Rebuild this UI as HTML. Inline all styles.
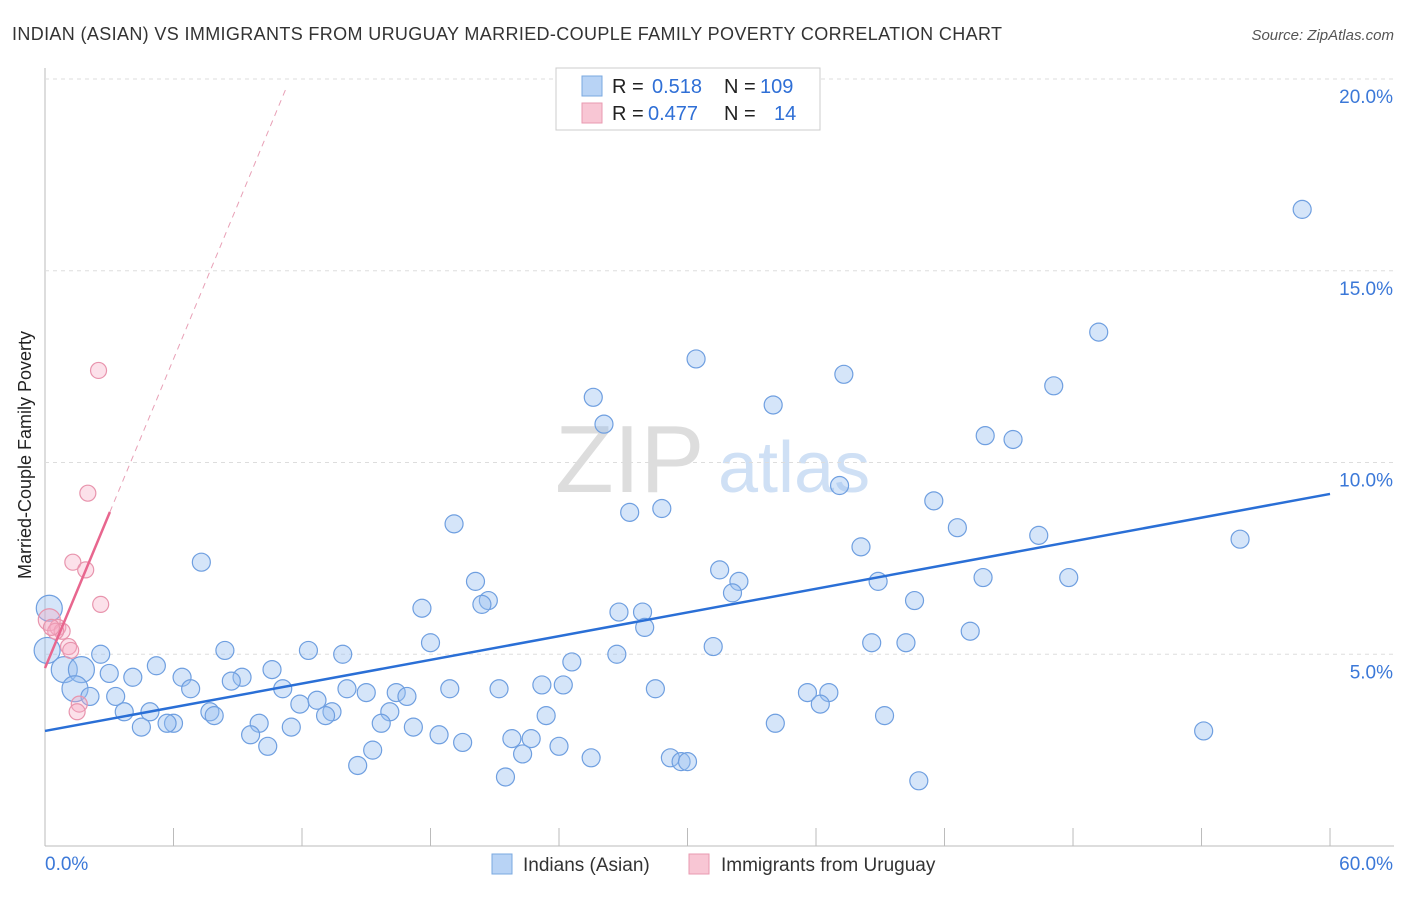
<!DOCTYPE html>
<html><head><meta charset="utf-8"><style>
body{margin:0;background:#fff;font-family:"Liberation Sans",sans-serif;}
svg text{font-family:"Liberation Sans",sans-serif;}
</style></head><body>
<svg id="c" width="1406" height="892" xmlns="http://www.w3.org/2000/svg">
<text x="12" y="40" font-size="18" fill="#333" textLength="990">INDIAN (ASIAN) VS IMMIGRANTS FROM URUGUAY MARRIED-COUPLE FAMILY POVERTY CORRELATION CHART</text>
<text x="1394" y="40" font-size="15" fill="#555" font-style="italic" text-anchor="end">Source: ZipAtlas.com</text>
<text x="31" y="455" font-size="18" fill="#222" text-anchor="middle" transform="rotate(-90 31 455)">Married-Couple Family Poverty</text>
<text x="555" y="492" font-size="96" fill="#ddd" font-family="Liberation Serif">ZIP</text>
<text x="718" y="492" font-size="72" fill="#cfe0f5">atlas</text>
<g id="grid"></g><g id="pts"></g><g id="lines"></g>
<g>
<rect x="556" y="68" width="264" height="62" fill="#fff" stroke="#ccc"/>
<rect x="582" y="76" width="20" height="20" fill="#b8d3f5" stroke="#7aa8e0"/>
<text x="612" y="93" font-size="20" fill="#222">R =</text><text x="652" y="93" font-size="20" fill="#2f6fd6">0.518</text>
<text x="724" y="93" font-size="20" fill="#222">N =</text><text x="760" y="93" font-size="20" fill="#2f6fd6">109</text>
<rect x="582" y="103" width="20" height="20" fill="#f8c6d4" stroke="#e99ab0"/>
<text x="612" y="120" font-size="20" fill="#222">R =</text><text x="648" y="120" font-size="20" fill="#2f6fd6">0.477</text>
<text x="724" y="120" font-size="20" fill="#222">N =</text><text x="774" y="120" font-size="20" fill="#2f6fd6">14</text>
</g>
<g>
<rect x="492" y="854" width="20" height="20" fill="#b8d3f5" stroke="#7aa8e0"/>
<text x="523" y="871" font-size="19" fill="#333">Indians (Asian)</text>
<rect x="689" y="854" width="20" height="20" fill="#f8c6d4" stroke="#e99ab0"/>
<text x="721" y="871" font-size="19" fill="#333">Immigrants from Uruguay</text>
</g>
</svg>
<script>
const yTicks=[5,10,15,20];
const xTickLabels=["0.0%","60.0%"];
const blueX=[58.7,49.2,30.4,37.3,47.1,25.6,34.0,26.1,43.9,45.2,37.1,41.5,27.3,28.8,19.1,42.6,46.4,55.8,38.1,7.3,31.5,43.8,47.8,32.4,20.1,38.9,32.1,20.7,20.4,17.6,40.6,26.8,27.9,28.0,43.2,18.0,38.6,40.2,31.2,8.4,12.3,13.9,26.7,2.6,5.2,24.6,0.9,1.7,3.0,10.6,4.1,9.2,6.4,8.7,1.4,6.8,11.1,23.2,24.2,28.5,14.1,15.0,18.9,21.2,16.4,16.9,2.1,3.3,35.6,36.6,11.9,12.7,36.2,3.7,4.9,7.7,7.9,13.4,16.1,13.1,23.4,39.2,6.0,5.7,10.0,15.7,17.2,34.1,4.5,11.5,9.6,18.4,54.1,21.8,22.7,19.5,10.4,15.3,24.0,22.3,29.2,25.5,29.7,30.0,14.6,21.5,40.8,0.2,0.1];
const blueY=[16.6,13.4,12.7,12.3,12.0,11.7,11.5,11.0,10.7,10.6,9.4,9.0,8.7,8.8,8.4,8.3,8.1,8.0,7.8,7.4,7.2,7.0,7.0,6.9,6.9,6.9,6.6,6.4,6.3,6.2,6.4,6.1,6.1,5.7,5.6,5.3,5.3,5.3,5.2,5.1,5.1,5.0,5.0,5.0,4.7,4.8,4.6,4.6,4.5,4.6,4.4,4.4,4.4,4.3,4.1,4.1,4.1,4.2,4.2,4.1,4.1,4.0,4.1,4.1,4.0,3.9,3.9,3.9,4.0,4.0,3.7,3.8,3.7,3.5,3.5,3.5,3.4,3.5,3.5,3.4,3.4,3.4,3.2,3.2,3.2,3.2,3.1,3.2,3.1,3.1,2.9,2.9,3.0,2.8,2.8,2.7,2.6,2.5,2.6,2.4,2.3,2.3,2.2,2.2,2.1,1.8,1.7,6.2,5.1];
const blueBig=[46,47,54,107,108];
const pinkX=[2.5,2.0,1.3,1.9,2.6,0.2,0.6,0.8,0.5,1.1,1.2,1.6,1.5,0.3];
const pinkY=[12.4,9.2,7.4,7.2,6.3,5.9,5.7,5.6,5.6,5.2,5.1,3.7,3.5,5.7];
const blueTrend=[3.0,9.18];
const pinkTrend=[4.64,1.343];
const NS='http://www.w3.org/2000/svg';
const sx=v=>45+v*21.417, sy=v=>846-v*38.35;
function mk(t,a,p){const e=document.createElementNS(NS,t);for(const k in a)e.setAttribute(k,a[k]);p.appendChild(e);return e;}
const g=document.getElementById('grid');
mk('line',{x1:45,y1:68,x2:45,y2:846,stroke:'#bbb'},g);
mk('line',{x1:45,y1:846,x2:1394,y2:846,stroke:'#bbb'},g);
yTicks.forEach(t=>{
 const l=mk('line',{x1:45,y1:sy(t),x2:1394,y2:sy(t),stroke:'#ddd','stroke-dasharray':'4,4'},g);
 
 
 const tx=mk('text',{x:1393,y:sy(t)+24,'font-size':19,fill:'#3b78d8','text-anchor':'end'},g);tx.textContent=t.toFixed(1)+'%';
 
 
});
for(let i=1;i<=10;i++){const x=sx(i*6);mk('line',{x1:x,y1:828,x2:x,y2:846,stroke:'#bbb'},g);}
const l0=mk('text',{x:45,y:870,'font-size':19,fill:'#3b78d8'},g);l0.textContent=xTickLabels[0];


const l1=mk('text',{x:1393,y:870,'font-size':19,fill:'#3b78d8','text-anchor':'end'},g);l1.textContent=xTickLabels[1];


const p=document.getElementById('pts');
blueX.forEach((x,i)=>{
 const big=blueBig.includes(i);
 const c=mk('circle',{cx:sx(x),cy:sy(blueY[i]),r:big?13:9,fill:'rgba(150,190,240,0.4)',stroke:'#6f9fe0','stroke-width':1.2},p);
 
 
});
pinkX.forEach((x,i)=>{
 const c=mk('circle',{cx:sx(x),cy:sy(pinkY[i]),r:i==5?11:8,fill:'rgba(245,170,195,0.35)',stroke:'#e894ad','stroke-width':1.2},p);
 
 
});
const L=document.getElementById('lines');
const bl=mk('line',{x1:sx(0),y1:sy(blueTrend[0]),x2:sx(60),y2:sy(blueTrend[1]),stroke:'#2a6fd6','stroke-width':2.5},L);


const pf=x=>pinkTrend[0]+pinkTrend[1]*x;
const pl=mk('line',{x1:sx(0),y1:sy(pf(0)),x2:sx(3.03),y2:sy(pf(3.03)),stroke:'#e8668e','stroke-width':2.5},L);


const pd=mk('line',{x1:sx(3.03),y1:sy(pf(3.03)),x2:sx(11.3),y2:sy(pf(11.3)),stroke:'#e8a0b6','stroke-width':1,'stroke-dasharray':'6,5'},L);


</script>
</body></html>
